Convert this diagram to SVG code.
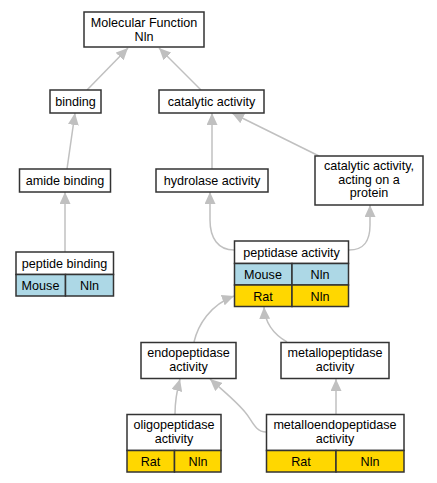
<svg xmlns="http://www.w3.org/2000/svg" width="437" height="483" viewBox="0 0 437 483">
<style>
text{font-family:"Liberation Sans",Arial,sans-serif;font-size:12.6px;fill:#000;text-anchor:middle}
.box{fill:#fff;stroke:#333;stroke-width:1.5}
.m{fill:#add8e6;stroke:#333;stroke-width:1.5}
.r{fill:#ffd700;stroke:#333;stroke-width:1.5}
.e{fill:none;stroke:#c0c0c0;stroke-width:1.5}
</style>
<defs>
<marker id="ah" markerUnits="userSpaceOnUse" markerWidth="13" markerHeight="11" refX="12" refY="5.5" orient="auto">
<path d="M0,0 L12,5.5 L0,11 Z" fill="#c0c0c0"/>
</marker>
</defs>
<rect width="437" height="483" fill="#fff"/>
<g id="edges">
<path class="e" marker-end="url(#ah)" d="M87,90 L128,48"/>
<path class="e" marker-end="url(#ah)" d="M201,90 L159,48"/>
<path class="e" marker-end="url(#ah)" d="M67,169 L75,113"/>
<path class="e" marker-end="url(#ah)" d="M212,169 L212,113"/>
<path class="e" marker-end="url(#ah)" d="M319,156 L232,113"/>
<path class="e" marker-end="url(#ah)" d="M65,252 L65,192"/>
<path class="e" marker-end="url(#ah)" d="M234,250 C218,250 210,238 210,220 L210,192"/>
<path class="e" marker-end="url(#ah)" d="M349,250 C365,250 370,240 370,225 L370,205"/>
<path class="e" marker-end="url(#ah)" d="M194,342 C198,325 210,305 234,296"/>
<path class="e" marker-end="url(#ah)" d="M287,342 C275,335 265,325 264,307"/>
<path class="e" marker-end="url(#ah)" d="M175,414 C175,400 177,390 180,379"/>
<path class="e" marker-end="url(#ah)" d="M266,432 C255,432 252,420 245,412 C235,400 220,388 210,379"/>
<path class="e" marker-end="url(#ah)" d="M336,414 L336,379"/>
</g>
<g id="mf">
<rect class="box" x="84" y="12" width="120" height="35"/>
<text x="144" y="27">Molecular Function</text>
<text x="144" y="40.5">Nln</text>
</g>
<g id="binding">
<rect class="box" x="50" y="90" width="51" height="23"/>
<text x="75.5" y="106">binding</text>
</g>
<g id="catalytic">
<rect class="box" x="159" y="90" width="105" height="23"/>
<text x="211.5" y="106">catalytic activity</text>
</g>
<g id="amide">
<rect class="box" x="19.5" y="169" width="91" height="23"/>
<text x="65" y="185">amide binding</text>
</g>
<g id="hydrolase">
<rect class="box" x="156" y="169" width="112" height="23"/>
<text x="212" y="185">hydrolase activity</text>
</g>
<g id="catprot">
<rect class="box" x="315" y="156" width="108" height="49"/>
<text x="369" y="170">catalytic activity,</text>
<text x="369" y="183.5">acting on a</text>
<text x="369" y="197">protein</text>
</g>
<g id="peptidebinding">
<rect class="box" x="16" y="252" width="97.5" height="22.5"/>
<rect class="m" x="16" y="274.5" width="49.5" height="21.5"/>
<rect class="m" x="65.5" y="274.5" width="48" height="21.5"/>
<text x="64.5" y="267.5">peptide binding</text>
<text x="40.5" y="289.5">Mouse</text>
<text x="89.5" y="289.5">Nln</text>
</g>
<g id="peptidase">
<rect class="box" x="234.5" y="241" width="114" height="22.5"/>
<rect class="m" x="234.5" y="263.5" width="57.5" height="21.5"/>
<rect class="m" x="292" y="263.5" width="56.5" height="21.5"/>
<rect class="r" x="234.5" y="285" width="57.5" height="21.5"/>
<rect class="r" x="292" y="285" width="56.5" height="21.5"/>
<text x="291.5" y="256.5">peptidase activity</text>
<text x="263" y="278.5">Mouse</text>
<text x="320" y="278.5">Nln</text>
<text x="263" y="300.5">Rat</text>
<text x="320" y="300.5">Nln</text>
</g>
<g id="endo">
<rect class="box" x="141" y="342.5" width="95" height="36"/>
<text x="188.5" y="357">endopeptidase</text>
<text x="188.5" y="370.5">activity</text>
</g>
<g id="metallo">
<rect class="box" x="281" y="342.5" width="108" height="36"/>
<text x="335" y="357">metallopeptidase</text>
<text x="335" y="370.5">activity</text>
</g>
<g id="oligo">
<rect class="box" x="127" y="414.5" width="94" height="36"/>
<rect class="r" x="127" y="450.5" width="47.5" height="21.5"/>
<rect class="r" x="174.5" y="450.5" width="46.5" height="21.5"/>
<text x="174" y="429">oligopeptidase</text>
<text x="174" y="442.5">activity</text>
<text x="150.5" y="465.5">Rat</text>
<text x="198" y="465.5">Nln</text>
</g>
<g id="metalloendo">
<rect class="box" x="266.5" y="414.5" width="137.5" height="36"/>
<rect class="r" x="266.5" y="450.5" width="69.5" height="21.5"/>
<rect class="r" x="336" y="450.5" width="68" height="21.5"/>
<text x="335" y="429">metalloendopeptidase</text>
<text x="335" y="442.5">activity</text>
<text x="301" y="465.5">Rat</text>
<text x="370" y="465.5">Nln</text>
</g>
</svg>
